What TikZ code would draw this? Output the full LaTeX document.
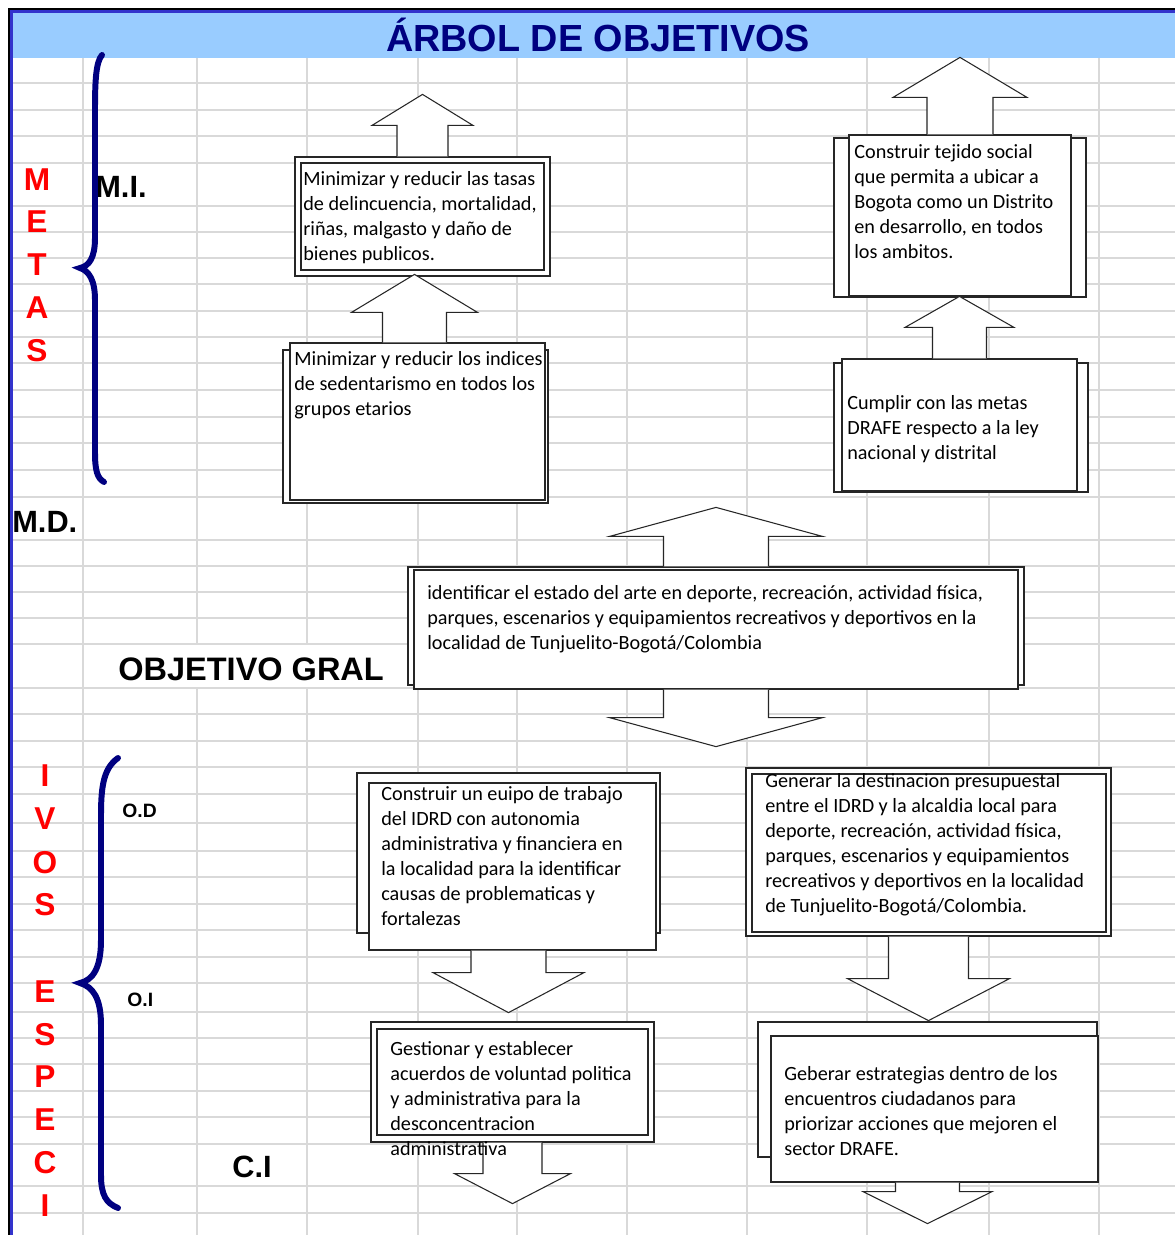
\documentclass[tikz,border=0pt]{standalone}
\usepackage{fontspec}
\setmainfont{Carlito}
\newfontfamily\headfont{Liberation Sans}
\usetikzlibrary{calc}
\definecolor{navy}{RGB}{0,0,128}
\definecolor{metared}{RGB}{255,0,0}
\definecolor{band}{RGB}{153,204,255}
\definecolor{gridgray}{RGB}{217,217,217}
\definecolor{edge}{RGB}{51,51,204}

% block arrows: base point, shaft half width, head half width, shaft length, head length
\newcommand{\blkup}[5]{\draw[blk] (#1) ++(-#2,0) -- ++(0,-#4) -- ++(#2-#3,0) -- ++(#3,-#5) -- ++(#3,#5) -- ++(#2-#3,0) -- ++(0,#4);}
\newcommand{\blkdown}[5]{\draw[blk] (#1) ++(-#2,0) -- ++(0,#4) -- ++(#2-#3,0) -- ++(#3,#5) -- ++(#3,-#5) -- ++(#2-#3,0) -- ++(0,-#4);}

\begin{document}
\begin{tikzpicture}[x=0.02cm, y=-0.02cm,
		frame/.style = {rectangle, draw=black!85, fill=white, line width=0.7pt, inner sep=0pt},
		txt/.style = {anchor=base west, align=left, inner sep=0pt, font=\fontsize{11.5}{14.2}\selectfont},
		blk/.style = {draw=black!85, fill=white, line width=0.6pt},
		head/.style = {anchor=base west, inner sep=0pt, font=\headfont\bfseries\fontsize{17.5}{20}\selectfont},
		small/.style = {anchor=base west, inner sep=0pt, font=\headfont\bfseries\fontsize{11}{13}\selectfont},
		lbl/.style = {anchor=base, inner sep=0pt, text=metared, font=\headfont\bfseries\fontsize{18}{20}\selectfont},
		brace/.style = {draw=navy, line width=3.4pt, line cap=round},
		gridline/.style = {draw=gridgray, line width=0.85pt}
		]
		
		\fill[white] (0,0) rectangle (1175,1235);
		\useasboundingbox (0,0) rectangle (1175,1235);
		
		% === === Sheet === ===
		\foreach \gx in {83,197,307,418,517,627,747,867,989,1099}
			\draw[gridline] (\gx,58) -- (\gx,1235);
		\foreach \gy in {83,110,136,163,206,232,258,284,311,337,363,390,417,443,470,497,540,566,592,618,644,688,714,741,767,794,823,851,877,904,930,957,983,1012,1038,1064,1091,1117,1144,1186,1213}
			\draw[gridline] (10,\gy) -- (1175,\gy);
		\fill[white] (84,645) rectangle (417,687);
		\fill[band] (11,11) rectangle (1175,58);
		\draw[line width=0.6pt] (9,1235) -- (9,9) -- (1175,9);
		\draw[edge, line width=1.2pt] (11.5,1235) -- (11.5,11.5) -- (1175,11.5);
		
		
		% === === Labels === ===
		\node[anchor=base, inner sep=0pt, text=navy, font=\headfont\bfseries\fontsize{21.5}{24}\selectfont] (title) at (598,51) {ÁRBOL DE OBJETIVOS};
		\node[head] (mi)	at	(95,197)	{M.I.};
		\node[head] (md)	at	(12,532)	{M.D.};
		\node[head, font=\headfont\bfseries\fontsize{18.5}{20}\selectfont] (gral) at (118,680) {OBJETIVO GRAL};
		\node[head] (ci)	at	(232,1177)	{C.I};
		\node[small] (od)	at	(122,817)	{O.D};
		\node[small] (oi)	at	(127,1006)	{O.I};
		
		\foreach \ch/\yb in {M/190,E/232,T/275,A/318,S/361}
			\node[lbl] (metas-\yb) at (37,\yb) {\ch};
		\foreach \ch/\yb in {I/786,V/829,O/873,S/915,E/1002,S/1045,P/1087,E/1130,C/1173,I/1216}
			\node[lbl] (esp-\yb) at (45,\yb) {\ch};
		
		% braces
		\draw[brace] (102,55) .. controls (96,62) and (95,80) .. (95,110) -- (95,238)
			.. controls (95,258) and (89,266) .. (80,268) .. controls (89,271) and (95,280) .. (95,300)
			-- (95,452) .. controls (95,470) and (97,478) .. (104,482);
		\draw[brace] (118,758) .. controls (104,768) and (101,785) .. (101,815) -- (101,940)
			.. controls (101,968) and (93,980) .. (80,983) .. controls (93,987) and (101,998) .. (101,1025)
			-- (101,1175) .. controls (101,1195) and (106,1203) .. (118,1208);
		
		
		% === === Nodes === ===
		\node[frame, minimum width=5.10cm, minimum height=2.38cm] (A)   at (422.5,216.5) {};
		\node[frame, minimum width=4.86cm, minimum height=2.14cm] (Ain) at (422.5,216.5) {};
		\node[frame, minimum width=5.30cm, minimum height=3.06cm] (Bb)  at (415.5,426.5) {};
		\node[frame, minimum width=5.10cm, minimum height=3.14cm] (B)   at (417.5,421.5) {};
		\node[frame, minimum width=5.04cm, minimum height=3.18cm] (Cb)  at (960,217.5) {};
		\node[frame, minimum width=4.44cm, minimum height=3.22cm] (C)   at (960,215.5) {};
		\node[frame, minimum width=5.08cm, minimum height=2.58cm] (Db)  at (961,427.5) {};
		\node[frame, minimum width=4.70cm, minimum height=2.64cm] (D)   at (959.5,425) {};
		\node[frame, minimum width=12.32cm, minimum height=2.36cm] (Eb) at (716,626) {};
		\node[frame, minimum width=12.08cm, minimum height=2.38cm] (E)  at (716,629.5) {};
		\node[frame, minimum width=6.06cm, minimum height=3.20cm] (Fb)  at (508.5,853) {};
		\node[frame, minimum width=5.74cm, minimum height=3.34cm] (F)   at (512.5,866.5) {};
		\node[frame, minimum width=5.66cm, minimum height=2.40cm] (G)   at (512.5,1082) {};
		\node[frame, minimum width=5.42cm, minimum height=2.12cm] (Gin) at (512.5,1082) {};
		\node[frame, minimum width=7.30cm, minimum height=3.36cm] (H)   at (928.5,852) {};
		\node[frame, minimum width=7.08cm, minimum height=3.16cm] (Hin) at (929,853) {};
		\node[frame, minimum width=6.78cm, minimum height=2.70cm] (Ib)  at (927.5,1089.5) {};
		\node[frame, minimum width=6.54cm, minimum height=2.92cm] (I)   at (934.5,1109) {};
		
		
		% === === Arrows === ===
		\blkup{A.north}{25.5}{50.5}{31}{31}
		\blkup{$(B.north)+(-3,0)$}{32}{63}{30}{38}
		\blkup{C.north}{33}{67}{37}{40}
		\blkup{D.north}{27}{54.5}{31}{31}
		\blkup{Eb.north}{52.5}{106.5}{30}{29}
		\blkdown{E.south}{52.5}{106.5}{28}{29}
		\blkdown{$(F.south)+(-4,0)$}{37.5}{75.5}{22}{40}
		\blkdown{G.south}{29.5}{58}{31}{30}
		\blkdown{H.south}{40}{81}{42}{42}
		\blkdown{$(I.south)+(-7,0)$}{32}{64.5}{9}{32}
		
		
		% === === Texts === ===
		% texts sit on the baseline of their last line
		\node[txt] (tA) at (303,260) {Minimizar y reducir las tasas\\de delincuencia, mortalidad,\\riñas, malgasto y daño de\\bienes publicos.};
		\node[txt] (tB) at (294,415) {Minimizar y reducir los indices\\de sedentarismo en todos los\\grupos etarios};
		\node[txt] (tC) at (854,258) {Construir tejido social\\que permita a ubicar a\\Bogota como un Distrito\\en desarrollo, en todos\\los ambitos.};
		\node[txt] (tD) at (847,459) {Cumplir con las metas\\DRAFE respecto a la ley\\nacional y distrital};
		\node[txt] (tE) at (427,649) {identificar el estado del arte en deporte, recreación, actividad física,\\parques, escenarios y equipamientos recreativos y deportivos en la\\localidad de Tunjuelito-Bogotá/Colombia};
		\node[txt] (tF) at (381,925) {Construir un euipo de trabajo\\del IDRD con autonomia\\administrativa y financiera en\\la localidad para la identificar\\causas de problematicas y\\fortalezas};
		\node[txt] (tG) at (390,1155) {Gestionar y establecer\\acuerdos de voluntad politica\\y administrativa para la\\desconcentracion\\administrativa};
		\begin{scope}
			\clip (Hin.north west) rectangle (Hin.south east);
			\node[txt] (tH) at (765,912) {Generar la destinacion presupuestal\\entre el IDRD y la alcaldia local para\\deporte, recreación, actividad física,\\parques, escenarios y equipamientos\\recreativos y deportivos en la localidad\\de Tunjuelito-Bogotá/Colombia.};
		\end{scope}
		\node[txt] (tI) at (784,1155) {Geberar estrategias dentro de los\\encuentros ciudadanos para\\priorizar acciones que mejoren el\\sector DRAFE.};
		
		
	\end{tikzpicture}
\end{document}
